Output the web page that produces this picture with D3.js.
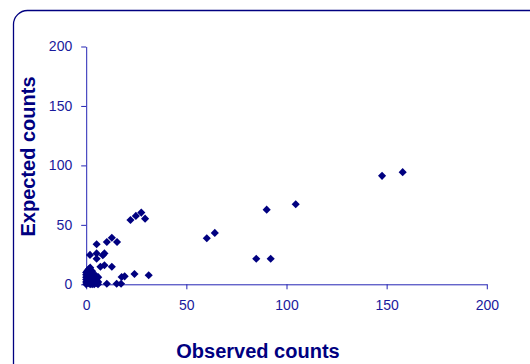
<!DOCTYPE html>
<html>
<head>
<meta charset="utf-8">
<script src="https://cdn.jsdelivr.net/npm/d3@7"></script>
<style>
  html, body { margin: 0; padding: 0; background: #fff; }
  svg { display: block; }
</style>
</head>
<body>
<div id="chart"></div>
<script>
// observed vs expected counts
const observed = [
  0, 0, 0, 0, 0, 0, 1, 1, 1, 1, 1, 1, 2, 2, 2, 2, 2, 2, 2, 3, 3, 3, 3, 3, 3,
  4, 4, 4, 4, 5, 5, 5, 6, 6, 0.5, 1.5,
  1.9, 5.2, 5.2, 5.2, 7.1, 8.3, 9.1, 9.1, 10.3, 12.8, 12.8, 15.4,
  10.3, 15.2, 17.4, 17.7, 19.2, 24.1, 31.2, 22.1, 24.8, 27.5, 29.4, 5.9, 3,
  60.2, 64.2, 90.1, 84.9, 92.1, 104.6, 147.7, 158
];
const expected = [
  0, 2, 4, 6, 8, 10, 1, 3, 5, 7, 9, 12, 0, 2, 4, 6, 8, 10, 14, 1, 3, 5, 7, 9, 11,
  0, 2, 5, 8, 1, 4, 7, 2, 6, 11, 13,
  24.7, 33.7, 26, 21.5, 14.8, 24.4, 26, 16, 35.6, 39.2, 14.8, 35.6,
  0.5, 0.5, 0.5, 6.1, 6.7, 8.7, 7.6, 54.1, 57.5, 60.3, 55.2, 0, 0,
  38.7, 43.2, 62.8, 21.5, 21.5, 67.3, 91.2, 94.3
];
const xTicks = [0, 50, 100, 150, 200];
const yTicks = [0, 50, 100, 150, 200];

const W = 530, H = 364;
const navy = '#000080';
const axisBlue = '#2424b4';

const svg = d3.select('#chart').append('svg')
  .attr('width', W)
  .attr('height', H);

// rounded chart-area border
svg.append('rect')
  .attr('x', 13.5).attr('y', 10.5)
  .attr('width', 530).attr('height', 370)
  .attr('rx', 14)
  .attr('fill', '#fff')
  .attr('stroke', navy)
  .attr('stroke-width', 1.3);

const x = d3.scaleLinear().domain([0, 200]).range([86.2, 486.8]);
const y = d3.scaleLinear().domain([0, 200]).range([284.3, 46.5]);

// X axis
const xAxis = svg.append('g')
  .attr('transform', `translate(0,${y(0)})`)
  .call(d3.axisBottom(x).tickValues(xTicks).tickSize(5).tickSizeOuter(0).tickPadding(11));
xAxis.select('.domain').attr('stroke', axisBlue);
xAxis.selectAll('line').attr('stroke', axisBlue);
xAxis.selectAll('text')
  .attr('fill', '#1a1a9c')
  .style('font-family', '"Liberation Sans", Arial, sans-serif')
  .style('font-size', '14px');

// Y axis
const yAxis = svg.append('g')
  .attr('transform', `translate(${x(0)},0)`)
  .call(d3.axisLeft(y).tickValues(yTicks).tickSize(5).tickSizeOuter(0).tickPadding(9));
yAxis.select('.domain').attr('stroke', axisBlue);
yAxis.selectAll('line').attr('stroke', axisBlue);
yAxis.selectAll('text')
  .attr('fill', '#1a1a9c')
  .style('font-family', '"Liberation Sans", Arial, sans-serif')
  .style('font-size', '14px');

// diamond markers (rotated squares)
svg.append('g').selectAll('path')
  .data(observed.map((o, i) => ({ o, e: expected[i] })))
  .enter().append('path')
  .attr('d', d3.symbol().type(d3.symbolSquare).size(33))
  .attr('transform', d => `translate(${x(d.o)},${y(d.e)}) rotate(45)`)
  .attr('fill', navy);

// axis titles
svg.append('text')
  .attr('x', 258).attr('y', 357.5)
  .attr('text-anchor', 'middle')
  .attr('fill', navy)
  .style('font-family', '"Liberation Sans", Arial, sans-serif')
  .style('font-weight', 'bold')
  .style('font-size', '20px')
  .text('Observed counts');

svg.append('text')
  .attr('transform', 'translate(35,156.5) rotate(-90)')
  .attr('text-anchor', 'middle')
  .attr('fill', navy)
  .style('font-family', '"Liberation Sans", Arial, sans-serif')
  .style('font-weight', 'bold')
  .style('font-size', '20px')
  .text('Expected counts');
</script>
</body>
</html>
